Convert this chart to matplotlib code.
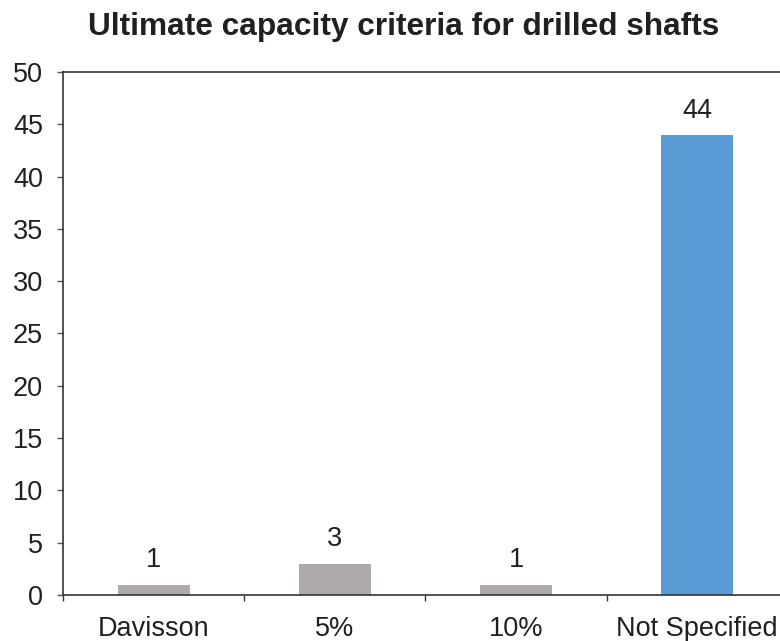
"""Bar chart of ultimate capacity criteria reported for drilled shafts."""

import numpy as np
import matplotlib

matplotlib.use("Agg")
import matplotlib.pyplot as plt

matplotlib.rcParams["font.family"] = ["Liberation Sans", "DejaVu Sans"]

categories = ["Davisson", "5%", "10%", "Not Specified"]
counts = [1, 3, 1, 44]
bar_colors = ["#ADAAA9", "#ADAAA9", "#ADAAA9", "#5B9BD5"]
y_ticks = list(range(0, 51, 5))

TEXT = "#231F20"
FS = 19.5

fig = plt.figure(figsize=(7.80, 6.41), dpi=100)
ax = fig.add_axes([0.081, 0.0718, 0.929, 0.816])

x = np.arange(len(categories))
ax.bar(x, counts, width=0.4, color=bar_colors, zorder=2)

for xi, c in zip(x, counts):
    ax.annotate(str(c), (xi, c), xytext=(0, 8), textcoords="offset points",
                ha="center", va="bottom", fontsize=FS, color=TEXT)

ax.set_xlim(-0.5, len(categories) - 0.5)
ax.set_ylim(0, 50)
ax.set_yticks(y_ticks)
ax.tick_params(axis="y", labelsize=FS, labelcolor=TEXT, length=4.5,
               width=1, color="#555555", direction="out", pad=10)

# category labels centred under the bars, tick marks on the boundaries
ax.set_xticks(x)
ax.set_xticklabels(categories)
ax.tick_params(axis="x", which="major", length=0, labelsize=FS,
               labelcolor=TEXT, pad=15)
ax.set_xticks(np.arange(len(categories) + 1) - 0.5, minor=True)
ax.tick_params(axis="x", which="minor", length=4.5, width=1,
               color="#333333", direction="out")

for side in ("left", "bottom", "top"):
    ax.spines[side].set_color("#333333")
    ax.spines[side].set_linewidth(1.2)
ax.spines["right"].set_visible(False)

fig.suptitle("Ultimate capacity criteria for drilled shafts", x=0.517,
             y=0.982, fontsize=22.75, fontweight="bold", color=TEXT)

fig.savefig("out.png", dpi=100)
